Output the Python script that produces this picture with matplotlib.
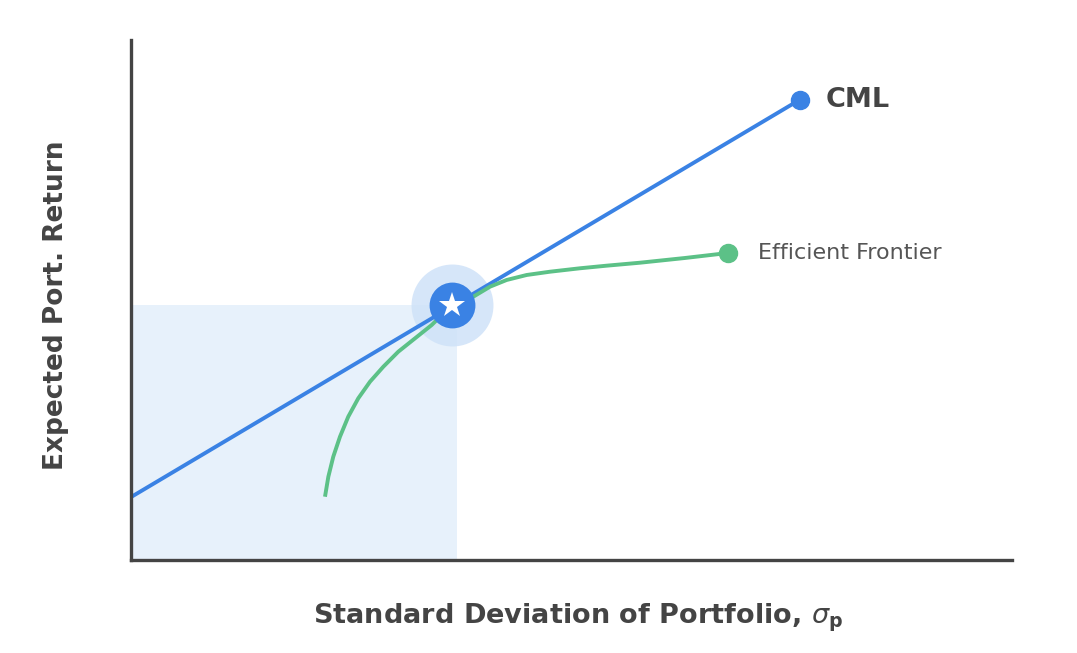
import matplotlib
matplotlib.use("Agg")
import matplotlib.pyplot as plt
from matplotlib.patches import Rectangle

# ---- data (arbitrary units, axes 0..100) ----
cml_x = [0.0, 75.9]
cml_y = [12.1, 88.5]
frontier_x = [22.02, 22.40, 22.96, 23.72, 24.66, 25.80, 27.13, 28.64, 30.34, 32.24, 34.13, 36.44,
              38.85, 40.75, 42.64, 44.91, 47.56, 50.96, 53.99, 57.77, 62.88, 67.76]
frontier_y = [12.17, 16.02, 19.87, 23.71, 27.56, 31.10, 34.29, 37.17, 40.06, 42.63, 45.19, 49.04,
              50.63, 52.56, 53.85, 54.81, 55.44, 56.10, 56.60, 57.17, 58.08, 59.04]
tangent_x, tangent_y = 36.4, 49.0
shade_w, shade_h = 37.0, 49.0
labels = {"cml": "CML", "ef": "Efficient Frontier"}
xlabel = r"Standard Deviation of Portfolio, $\sigma_\mathregular{p}$"
ylabel = "Expected Port. Return"

BLUE = "#3a82e4"
GREEN = "#5cc187"
SHADE = "#e7f1fb"
HALO = "#cfe2f8"
TXT = "#444444"

fig = plt.figure(figsize=(10.77, 6.53), dpi=100)
ax = fig.add_axes([131/1077, 93/653, 881/1077, 520/653])
ax.set_xlim(0, 100)
ax.set_ylim(0, 100)

ax.add_patch(Rectangle((0, 0), shade_w, shade_h, facecolor=SHADE, edgecolor="none", zorder=0))

ax.plot(cml_x, cml_y, color=BLUE, lw=2.8, solid_capstyle="butt", zorder=2)
ax.plot(cml_x[-1], cml_y[-1], "o", color=BLUE, ms=13, zorder=3)
ax.plot(frontier_x, frontier_y, color=GREEN, lw=2.8, solid_capstyle="butt",
        solid_joinstyle="round", zorder=2)
ax.plot(frontier_x[-1], frontier_y[-1], "o", color=GREEN, ms=13, zorder=3)

# tangency marker
ax.plot(tangent_x, tangent_y, "o", color=HALO, ms=59, alpha=0.85, zorder=1.5, markeredgewidth=0)
ax.plot(tangent_x, tangent_y, "o", color=BLUE, ms=33, zorder=4, markeredgewidth=0)
ax.plot(tangent_x, tangent_y, "*", color="white", ms=19, zorder=5, markeredgewidth=0)

ax.text(cml_x[-1] + 3, cml_y[-1], labels["cml"], fontsize=19.5, fontweight="bold",
        color=TXT, va="center", ha="left", family="DejaVu Sans")
ax.text(frontier_x[-1] + 3.4, frontier_y[-1], labels["ef"], fontsize=16,
        color="#555555", va="center", ha="left", family="DejaVu Sans")

for s in ["top", "right"]:
    ax.spines[s].set_visible(False)
for s in ["left", "bottom"]:
    ax.spines[s].set_color(TXT)
    ax.spines[s].set_linewidth(2.4)
ax.set_xticks([])
ax.set_yticks([])

fig.text(578/1077, 1 - 618/653, xlabel, fontsize=19.5, fontweight="bold", color=TXT,
         ha="center", va="center", family="DejaVu Sans")
fig.text(56/1077, 1 - 305/653, ylabel, fontsize=19, fontweight="bold", color=TXT,
         ha="center", va="center", rotation=90, family="DejaVu Sans")

fig.savefig("out.png", dpi=100, facecolor="white")
